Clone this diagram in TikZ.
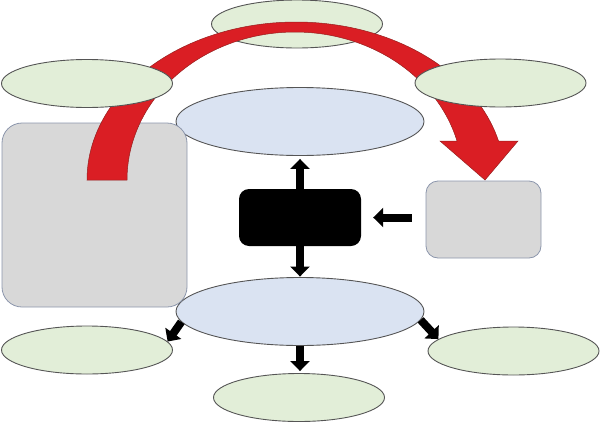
\documentclass[tikz,border=0pt]{standalone}
\usetikzlibrary{shapes.geometric,arrows.meta}
\definecolor{greenc}{RGB}{226,238,216}
\definecolor{bluec}{RGB}{218,227,242}
\definecolor{grayc}{RGB}{216,216,216}
\definecolor{grayline}{RGB}{140,150,172}
\definecolor{ellline}{RGB}{85,85,85}
\definecolor{redc}{RGB}{218,30,36}
\definecolor{reddark}{RGB}{150,30,30}
\tikzset{
  ell/.style={ellipse, draw=ellline, line width=0.9pt, inner sep=0pt},
  gell/.style={ell, fill=greenc, minimum width=171pt, minimum height=48pt},
  bell/.style={ell, fill=bluec, minimum width=248pt, minimum height=68pt},
  gbox/.style={rectangle, draw=grayline, line width=0.8pt, fill=grayc, inner sep=0pt},
  blk/.style={draw=black, line width=8pt, -{Triangle[length=10pt,width=19pt]}},
}
\begin{document}
\begin{tikzpicture}[x=1pt,y=-1pt]
\useasboundingbox (0,0) rectangle (600,426);
% background nodes
\node[gell] (gT) at (297,24) {};
\node[bell] (bT) at (300,121.5) {};
\node[bell] (bB) at (300,311.5) {};
\node[gbox, rounded corners=20pt, minimum width=185pt, minimum height=184pt] (grL) at (94.5,215) {};
\node[gbox, rounded corners=12pt, minimum width=115pt, minimum height=77pt] (grR) at (483.5,219.5) {};
\node[rectangle, fill=black, rounded corners=10pt, inner sep=0pt, minimum width=122pt, minimum height=57pt] (blackbox) at (300,217.5) {};
% red curved arrow
\filldraw[fill=redc, draw=reddark, line width=0.5pt]
  plot[domain=180:14.29, samples=90] ({296+209*cos(\x)},{180-158*sin(\x)})
  -- (518,141) -- (485,180) -- (440,141)
  -- plot[domain=15.28:180, samples=90] ({295+168*cos(\x)},{180-148*sin(\x)})
  -- cycle;
% green ellipses over the arrow
\node[gell] (gL) at (87,83.5) {};
\node[gell] (gR) at (500.5,83) {};
\node[gell] (gBL) at (87,350) {};
\node[gell] (gBM) at (299,397.5) {};
\node[gell] (gBR) at (513.5,351) {};
% black arrows
\draw[blk, shorten <=-5pt, shorten >=3pt] (blackbox.north) -- (bT.south);
\draw[blk, shorten <=-3pt, shorten >=0.5pt] (blackbox.south) -- (bB.north);
\draw[blk, shorten <=14pt, shorten >=12pt] (grR.west |- blackbox.east) -- (blackbox.east);
\draw[blk] (bB.185.5) -- (gBL.6.8);
\draw[blk] (bB.-4.2) -- (gBR.171.6);
\draw[blk, shorten >=2pt] (bB.south) -- (bB.south |- gBM.north);
\end{tikzpicture}
\end{document}
